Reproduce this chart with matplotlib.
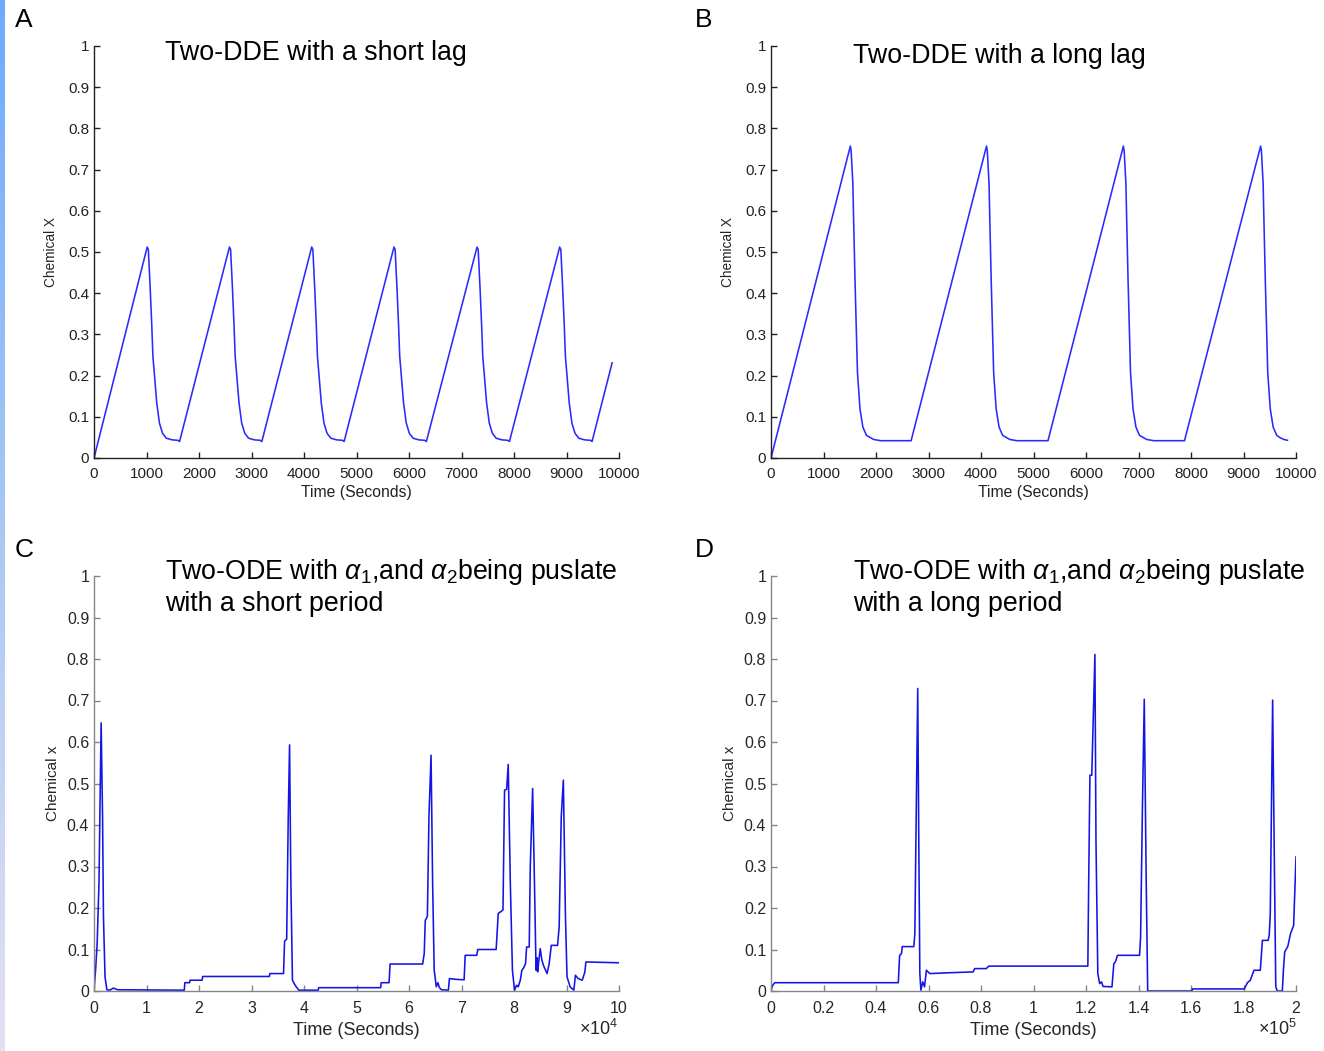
import numpy as np
import matplotlib
matplotlib.use("Agg")
import matplotlib.pyplot as plt
from matplotlib.colors import LinearSegmentedColormap

plt.rcParams['font.family'] = ['Liberation Sans', 'DejaVu Sans']
plt.rcParams['mathtext.fontset'] = 'custom'
plt.rcParams['mathtext.rm'] = 'Liberation Sans'
plt.rcParams['mathtext.it'] = 'Liberation Sans:italic'

# ---------------- data ----------------
# Panel A: Two-DDE with a short lag (time in seconds)
tA = [0,
      1013, 1035, 1071, 1101, 1122, 1159, 1195, 1246, 1305, 1378, 1487, 1596, 1630,
      2580, 2602, 2638, 2668, 2689, 2726, 2762, 2813, 2872, 2945, 3054, 3163, 3197,
      4147, 4169, 4205, 4235, 4256, 4293, 4329, 4380, 4439, 4512, 4621, 4730, 4764,
      5714, 5736, 5772, 5802, 5823, 5860, 5896, 5947, 6006, 6079, 6188, 6297, 6331,
      7296, 7318, 7354, 7384, 7405, 7442, 7478, 7529, 7588, 7661, 7770, 7879, 7913,
      8870, 8892, 8928, 8958, 8979, 9016, 9052, 9103, 9162, 9235, 9344, 9453, 9487,
      9869]
xA = [0,
      .512, .506, .41, .32, .247, .19, .134, .085, .060, .048, .044, .043, .040,
      .512, .506, .41, .32, .247, .19, .134, .085, .060, .048, .044, .043, .040,
      .512, .506, .41, .32, .247, .19, .134, .085, .060, .048, .044, .043, .040,
      .512, .506, .41, .32, .247, .19, .134, .085, .060, .048, .044, .043, .040,
      .512, .506, .41, .32, .247, .19, .134, .085, .060, .048, .044, .043, .040,
      .512, .506, .41, .32, .247, .19, .134, .085, .060, .048, .044, .043, .040,
      .231]

# Panel B: Two-DDE with a long lag (time in seconds)
tB = [0,
      1511, 1526, 1559, 1579, 1600, 1620, 1647, 1695, 1750, 1818, 1954, 2090, 2669,
      4105, 4120, 4153, 4173, 4194, 4214, 4241, 4289, 4344, 4412, 4548, 4684, 5276,
      6712, 6727, 6760, 6780, 6801, 6821, 6848, 6896, 6951, 7019, 7155, 7291, 7876,
      9326, 9341, 9374, 9394, 9415, 9435, 9462, 9510, 9565, 9633, 9700, 9770, 9837]
xB = [0,
      .757, .746, .666, .549, .433, .336, .207, .119, .075, .055, .045, .042, .042,
      .757, .746, .666, .549, .433, .336, .207, .119, .075, .055, .045, .042, .042,
      .757, .746, .666, .549, .433, .336, .207, .119, .075, .055, .045, .042, .042,
      .757, .746, .666, .549, .433, .336, .207, .119, .075, .055, .049, .045, .043]

# Panel C: pulsating, short period (time in units of 1e4 s)
tC = [0, 0.03, 0.06, 0.095, 0.12, 0.136, 0.163, 0.18, 0.21, 0.245, 0.30, 0.37, 0.45,
      1.72, 1.73, 1.82, 1.83, 2.06, 2.07, 3.34, 3.35, 3.61, 3.63, 3.67, 3.70, 3.725,
      3.75, 3.78, 3.83, 3.90, 4.27, 4.28, 5.46, 5.47, 5.62, 5.64, 6.26, 6.29, 6.31,
      6.35, 6.38, 6.42, 6.45, 6.48, 6.52, 6.55, 6.58, 6.62, 6.75, 6.77, 6.90, 7.05,
      7.07, 7.29, 7.31, 7.66, 7.70, 7.79, 7.82, 7.86, 7.89, 7.93, 7.97, 8.01, 8.05,
      8.08, 8.12, 8.15, 8.18, 8.22, 8.24, 8.29, 8.31, 8.355, 8.39, 8.42, 8.44, 8.45,
      8.47, 8.50, 8.53, 8.56, 8.63, 8.67, 8.71, 8.83, 8.86, 8.90, 8.94, 8.98, 9.01,
      9.07, 9.14, 9.17, 9.22, 9.30, 9.35, 9.37, 10.0]
xC = [0, 0.05, 0.114, 0.26, 0.50, 0.646, 0.42, 0.18, 0.034, 0.003, 0.002, 0.007, 0.003,
      0.002, 0.02, 0.02, 0.026, 0.026, 0.035, 0.035, 0.042, 0.042, 0.12, 0.125, 0.42, 0.593,
      0.26, 0.026, 0.014, 0.002, 0.002, 0.008, 0.008, 0.02, 0.02, 0.065, 0.065, 0.09, 0.17,
      0.18, 0.42, 0.568, 0.26, 0.05, 0.01, 0.02, 0.008, 0.003, 0.002, 0.03, 0.028, 0.027,
      0.086, 0.086, 0.10, 0.10, 0.187, 0.195, 0.484, 0.486, 0.546, 0.26, 0.05, 0.002, 0.014,
      0.01, 0.026, 0.05, 0.055, 0.066, 0.106, 0.106, 0.30, 0.488, 0.26, 0.05, 0.08, 0.046,
      0.07, 0.102, 0.075, 0.062, 0.042, 0.066, 0.11, 0.11, 0.154, 0.42, 0.508, 0.18, 0.034,
      0.01, 0.002, 0.038, 0.03, 0.026, 0.046, 0.07, 0.068]

# Panel D: pulsating, long period (time in units of 1e5 s)
tD = [0, 0.005, 0.014, 0.485, 0.49, 0.497, 0.50, 0.544, 0.548, 0.552, 0.559, 0.563,
      0.567, 0.571, 0.578, 0.585, 0.592, 0.605, 0.68, 0.77, 0.776, 0.82, 0.83, 1.207,
      1.21, 1.215, 1.222, 1.226, 1.234, 1.238, 1.245, 1.252, 1.259, 1.265, 1.299, 1.306,
      1.312, 1.32, 1.404, 1.408, 1.415, 1.422, 1.429, 1.435, 1.604, 1.605, 1.803, 1.815,
      1.826, 1.84, 1.864, 1.872, 1.894, 1.898, 1.902, 1.911, 1.918, 1.923, 1.929, 1.948,
      1.952, 1.957, 1.969, 1.979, 1.991, 2.0]
xD = [0, 0.012, 0.02, 0.02, 0.086, 0.09, 0.107, 0.107, 0.138, 0.363, 0.729, 0.363,
      0.042, 0.002, 0.022, 0.01, 0.05, 0.042, 0.044, 0.046, 0.054, 0.054, 0.06, 0.06,
      0.25, 0.52, 0.52, 0.617, 0.811, 0.363, 0.042, 0.018, 0.022, 0.011, 0.01, 0.066,
      0.07, 0.086, 0.086, 0.13, 0.444, 0.703, 0.283, 0.0, 0.0, 0.005, 0.005, 0.02,
      0.026, 0.05, 0.05, 0.122, 0.122, 0.135, 0.187, 0.701, 0.283, 0.01, 0.0, 0.0,
      0.05, 0.094, 0.108, 0.138, 0.158, 0.323]

yticks = [0, 0.1, 0.2, 0.3, 0.4, 0.5, 0.6, 0.7, 0.8, 0.9, 1]
ytick_labels = ['0', '0.1', '0.2', '0.3', '0.4', '0.5', '0.6', '0.7', '0.8', '0.9', '1']
xticks_AB = [0, 1000, 2000, 3000, 4000, 5000, 6000, 7000, 8000, 9000, 10000]
xticks_C = [0, 1, 2, 3, 4, 5, 6, 7, 8, 9, 10]
xticks_D = [0, 0.2, 0.4, 0.6, 0.8, 1, 1.2, 1.4, 1.6, 1.8, 2]
xtick_labels_D = ['0', '0.2', '0.4', '0.6', '0.8', '1', '1.2', '1.4', '1.6', '1.8', '2']

# ---------------- figure ----------------
W, H = 1324, 1051
fig = plt.figure(figsize=(W / 100, H / 100), dpi=100)
fig.patch.set_facecolor('white')

# left gradient strip
gax = fig.add_axes([0, 0, 5 / W, 1])
cmap = LinearSegmentedColormap.from_list('strip', ['#6eaaff', '#a8c8f4', '#e4e0f2'])
gax.imshow(np.linspace(0, 1, 256).reshape(-1, 1), aspect='auto', cmap=cmap)
gax.axis('off')


def px_axes(x0, x1, ytop, ybot):
    return fig.add_axes([x0 / W, 1 - ybot / H, (x1 - x0) / W, (ybot - ytop) / H])


def style(ax, spine_col, lab_col, tick_fs, xpad):
    for s in ['top', 'right']:
        ax.spines[s].set_visible(False)
    for s in ['left', 'bottom']:
        ax.spines[s].set_color(spine_col)
        ax.spines[s].set_linewidth(1.0)
    ax.tick_params(direction='in', length=4, width=1.0, colors=spine_col,
                   labelcolor=lab_col, labelsize=tick_fs)
    ax.tick_params(axis='y', pad=3.5)
    ax.tick_params(axis='x', pad=xpad)
    ax.set_ylim(0, 1)
    ax.set_yticks(yticks)
    ax.set_yticklabels(ytick_labels)


line_ab = '#2a2aff'
line_cd = '#1414e6'

# Panel A
axA = px_axes(94, 619, 46, 458)
axA.plot(tA, xA, color=line_ab, lw=1.15)
style(axA, '#222222', '#222222', 11, 6.5)
axA.set_xlim(0, 10000)
axA.set_xticks(xticks_AB)
axA.set_xlabel('Time (Seconds)', fontsize=11.3, color='#222222', labelpad=3)
axA.set_ylabel('Chemical X', fontsize=9.8, color='#222222', labelpad=7)

# Panel B
axB = px_axes(771, 1296, 46, 458)
axB.plot(tB, xB, color=line_ab, lw=1.15)
style(axB, '#222222', '#222222', 11, 6.5)
axB.set_xlim(0, 10000)
axB.set_xticks(xticks_AB)
axB.set_xlabel('Time (Seconds)', fontsize=11.3, color='#222222', labelpad=3)
axB.set_ylabel('Chemical X', fontsize=9.8, color='#222222', labelpad=7)

# Panel C
axC = px_axes(94, 619, 576, 991)
axC.plot(tC, xC, color=line_cd, lw=1.15)
style(axC, '#858585', '#262626', 11.5, 7.5)
axC.set_xlim(0, 10)
axC.set_xticks(xticks_C)
axC.set_xlabel('Time (Seconds)', fontsize=13, color='#262626', labelpad=4)
axC.set_ylabel('Chemical x', fontsize=11, color='#262626', labelpad=5)
fig.text(618 / W, 1 - 1029 / H, r'$\times$10$^4$', fontsize=13, color='#262626',
         ha='right', va='center')

# Panel D
axD = px_axes(771, 1296, 576, 991)
axD.plot(tD, xD, color=line_cd, lw=1.15)
style(axD, '#858585', '#262626', 11.5, 7.5)
axD.set_xlim(0, 2)
axD.set_xticks(xticks_D)
axD.set_xticklabels(xtick_labels_D)
axD.set_xlabel('Time (Seconds)', fontsize=13, color='#262626', labelpad=4)
axD.set_ylabel('Chemical x', fontsize=11, color='#262626', labelpad=5)
fig.text(1297 / W, 1 - 1029 / H, r'$\times$10$^5$', fontsize=13, color='#262626',
         ha='right', va='center')

# titles and panel letters
fig.text(165 / W, 1 - 53 / H, 'Two-DDE with a short lag', fontsize=19.3, va='center')
fig.text(853 / W, 1 - 56 / H, 'Two-DDE with a long lag', fontsize=19.3, va='center')
fig.text(165 / W, 1 - 572 / H, r'Two-ODE with $\alpha_1$,and $\alpha_2$being puslate',
         fontsize=19.3, va='center')
fig.text(165 / W, 1 - 604 / H, 'with a short period', fontsize=19.3, va='center')
fig.text(853 / W, 1 - 572 / H, r'Two-ODE with $\alpha_1$,and $\alpha_2$being puslate',
         fontsize=19.3, va='center')
fig.text(853 / W, 1 - 604 / H, 'with a long period', fontsize=19.3, va='center')

for lab, x, y in [('A', 15, 20), ('B', 695, 20), ('C', 15, 550), ('D', 695, 550)]:
    fig.text(x / W, 1 - y / H, lab, fontsize=19, va='center', ha='left')

fig.savefig('out.png', dpi=100)
